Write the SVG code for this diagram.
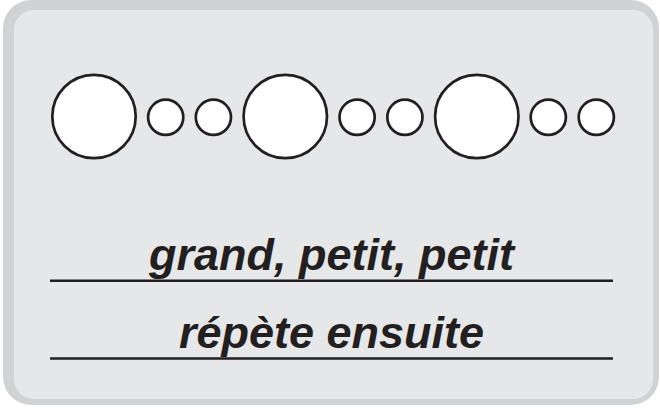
<svg xmlns="http://www.w3.org/2000/svg" width="660" height="408" viewBox="0 0 660 408">
  <style>
    .big, .small { fill: #ffffff; stroke: #231f20; stroke-width: 2.7; }
    .rule { stroke: #231f20; stroke-width: 2.6; }
    .lbl { font-family: "Liberation Sans", Arial, sans-serif; font-weight: bold; font-style: italic; font-size: 45px; fill: #231f20; text-anchor: middle; }
  </style>
  <g id="frame">
    <rect x="3" y="0" width="656" height="405" rx="28" ry="28" fill="#d1d2d4"/>
    <rect x="14" y="10" width="639" height="389" rx="20" ry="20" fill="#e6e7e8"/>
  </g>
  <g id="circles">
    <circle id="c1" class="big" cx="94" cy="116.5" r="41.7"/>
    <circle id="c2" class="small" cx="165.7" cy="117.3" r="17.6"/>
    <circle id="c3" class="small" cx="213.4" cy="117.3" r="17.6"/>
    <circle id="c4" class="big" cx="285.3" cy="116.5" r="41.7"/>
    <circle id="c5" class="small" cx="357.1" cy="117.3" r="17.6"/>
    <circle id="c6" class="small" cx="404.9" cy="117.3" r="17.6"/>
    <circle id="c7" class="big" cx="476.8" cy="116.5" r="41.7"/>
    <circle id="c8" class="small" cx="548.3" cy="117.3" r="17.6"/>
    <circle id="c9" class="small" cx="596.3" cy="117.3" r="17.6"/>
  </g>
  <g id="label1">
    <text class="lbl" x="331.5" y="270">grand, petit, petit</text>
    <line class="rule" x1="50" y1="280.7" x2="613" y2="280.7"/>
  </g>
  <g id="label2">
    <text class="lbl" x="331.5" y="347.5">répète ensuite</text>
    <line class="rule" x1="50" y1="358.5" x2="613" y2="358.5"/>
  </g>
</svg>
